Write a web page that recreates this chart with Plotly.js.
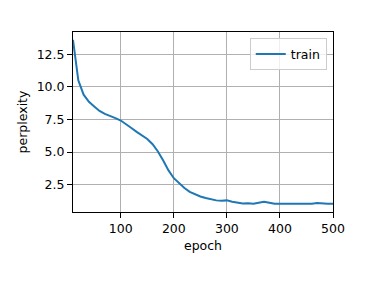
<!DOCTYPE html>
<html>
<head>
<meta charset="utf-8">
<script src="https://cdn.plot.ly/plotly-3.0.1.min.js"></script>
<style>html,body{margin:0;padding:0;background:#fff;}#chart{width:376px;height:285px;}</style>
</head>
<body>
<div id="chart"></div>
<script>
const epochs = [10,20,30,40,50,60,70,80,90,100,110,120,130,140,150,160,170,180,190,200,210,220,230,240,250,260,270,280,290,300,310,320,330,340,350,360,370,380,390,400,410,420,430,440,450,460,470,480,490,500];
const perplexity = [13.6,10.5,9.4,8.85,8.5,8.15,7.92,7.78,7.6,7.42,7.1,6.85,6.55,6.3,6.0,5.6,5.05,4.35,3.6,3.0,2.6,2.25,1.95,1.75,1.6,1.48,1.38,1.3,1.28,1.3,1.2,1.12,1.07,1.08,1.04,1.12,1.2,1.12,1.05,1.04,1.04,1.04,1.04,1.04,1.04,1.05,1.1,1.05,1.05,1.05];
const xTicks = [100,200,300,400,500];
const yTicks = [2.5,5.0,7.5,10.0,12.5];
const yTickText = ["2.5","5.0","7.5","10.0","12.5"];

const font = {family: "DejaVu Sans", size: 12.5, color: "#000"};
const axisCommon = {
  showline: true, mirror: true, linecolor: "#000", linewidth: 1,
  showgrid: true, gridcolor: "#b0b0b0", gridwidth: 1,
  ticks: "outside", ticklen: 5, tickwidth: 1, tickcolor: "#000",
  zeroline: false, tickfont: font
};
Plotly.newPlot("chart", [{
  x: epochs, y: perplexity, type: "scatter", mode: "lines", name: "train",
  line: {color: "#1f77b4", width: 2}
}], {
  width: 376, height: 285,
  margin: {l: 73, r: 43, t: 32, b: 72.5},
  paper_bgcolor: "#fff", plot_bgcolor: "#fff",
  font: font,
  xaxis: Object.assign({}, axisCommon, {
    range: [10, 500], tickvals: xTicks,
    title: {text: "epoch", font: font, standoff: 6}
  }),
  yaxis: Object.assign({}, axisCommon, {
    range: [0.41, 14.2], tickvals: yTicks, ticktext: yTickText,
    title: {text: "perplexity", font: font, standoff: 6}
  }),
  showlegend: true,
  legend: {
    x: 0.976, y: 0.965, xanchor: "right", yanchor: "top",
    bgcolor: "rgba(255,255,255,0.8)", bordercolor: "#cccccc", borderwidth: 1,
    font: font
  }
}, {displayModeBar: false, staticPlot: true});
</script>
</body>
</html>
